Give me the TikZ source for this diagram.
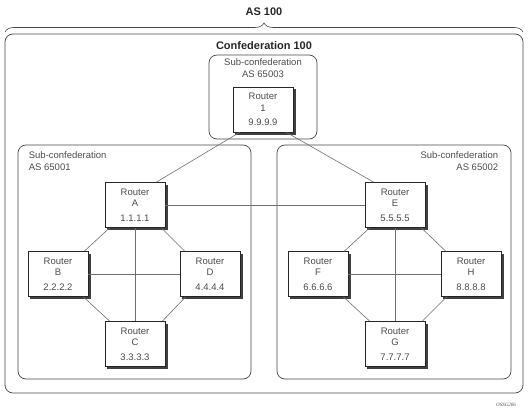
\documentclass[tikz,border=0pt]{standalone}
\usepackage{fontspec}
\setmainfont{Liberation Sans}
\newfontfamily\tagfont{Liberation Serif}
\definecolor{framegray}{RGB}{70, 70, 70}
\definecolor{linkgray}{RGB}{110, 110, 110}
\definecolor{textgray}{RGB}{75, 75, 75}
\usepackage{tikz}
\usetikzlibrary{positioning,calc,backgrounds,decorations.pathreplacing}

\begin{document}
\begin{tikzpicture}[
                x=1pt,y=-1pt,
                area/.style={draw=framegray,rounded corners=8pt,line width=0.7pt,inner sep=0pt},
                router/.style={draw=black!85,fill=white,line width=0.7pt,minimum width=60,minimum height=45,
                    align=center,inner sep=1pt,text=textgray,font=\fontsize{9.5}{11.5}\selectfont},
                areatext/.style={font=\fontsize{9.5}{11.5}\selectfont,text=textgray,inner sep=0pt},
                title/.style={font=\fontsize{11}{13}\selectfont\bfseries,text=black!85},
                link/.style={draw=linkgray,line width=0.6pt}
            ]
                \useasboundingbox (0,0) rectangle (529,414);

                % AS and confederation
                \node[title] (as) at (264,12) {AS 100};
                \draw[framegray,line width=0.6pt,decorate,decoration={brace,amplitude=9pt}] (5,32) -- (523,32);
                \node[area,minimum width=518,minimum height=359] (conf) at (264,213.5) {};
                \node[title] (conftitle) at (264,46) {Confederation 100};

                % Sub-confederations
                \node[area,minimum width=108,minimum height=84] (sc3) at (263,97) {};
                \node[area,minimum width=233,minimum height=234] (sc1) at (134.5,262) {};
                \node[area,minimum width=234,minimum height=234] (sc2) at (394,262) {};
                \node[areatext,align=center,anchor=north] (sc3lbl) at ([yshift=-4pt]sc3.north) {Sub-confederation\\AS 65003};
                \node[areatext,align=left,anchor=north west] (sc1lbl) at ([xshift=11pt,yshift=-7pt]sc1.north west) {Sub-confederation\\AS 65001};
                \node[areatext,align=right,anchor=north east] (sc2lbl) at ([xshift=-13pt,yshift=-7pt]sc2.north east) {Sub-confederation\\AS 65002};

                % Routers
                \node[router] (r1) at (263,109.5) {Router\\1\\[3pt]9.9.9.9};
                \node[router] (ra) at (135,205) {Router\\A\\[3pt]1.1.1.1};
                \node[router] (rb) at (58,274) {Router\\B\\[3pt]2.2.2.2};
                \node[router] (rd) at (210,274) {Router\\D\\[3pt]4.4.4.4};
                \node[router] (rc) at (135,344) {Router\\C\\[3pt]3.3.3.3};
                \node[router] (re) at (395,205) {Router\\E\\[3pt]5.5.5.5};
                \node[router] (rf) at (318,274) {Router\\F\\[3pt]6.6.6.6};
                \node[router] (rh) at (471,274) {Router\\H\\[3pt]8.8.8.8};
                \node[router] (rg) at (395,344) {Router\\G\\[3pt]7.7.7.7};

                % Shadows
                \begin{scope}[on background layer]
                \foreach \r in {r1,ra,rb,rc,rd,re,rf,rg,rh}
                    \fill[black!75] ([shift={(2.5pt,-2.5pt)}]\r.south west) rectangle ([shift={(2.5pt,-2.5pt)}]\r.north east);
                \end{scope}

                % Connections
                \path[link] ([xshift=7pt]r1.south west) -- ([xshift=-9pt]ra.north east);
                \path[link] ([xshift=-7pt]r1.south east) -- ([xshift=9pt]re.north west);
                \path[link] (ra.east) -- (re.west);
                \foreach \top/\lft/\rgt/\bot in {ra/rb/rd/rc,re/rf/rh/rg}{
                    \path[link] ([xshift=5pt]\top.south west) -- ([xshift=-4pt]\lft.north east);
                    \path[link] ([xshift=-4pt]\top.south east) -- ([xshift=5pt]\rgt.north west);
                    \path[link] ([xshift=-5pt]\lft.south east) -- ([xshift=5pt]\bot.north west);
                    \path[link] ([xshift=6pt]\rgt.south west) -- ([xshift=-3pt]\bot.north east);
                    \path[link] (\top.south) -- (\bot.north);
                    \path[link] (\lft.east) -- (\rgt.west);
                }

                % Labels
                \node[font=\tagfont\itshape\fontsize{5}{6}\selectfont,text=black!70] (tag) at (506,405) {OSSG206};
            \end{tikzpicture}
\end{document}
